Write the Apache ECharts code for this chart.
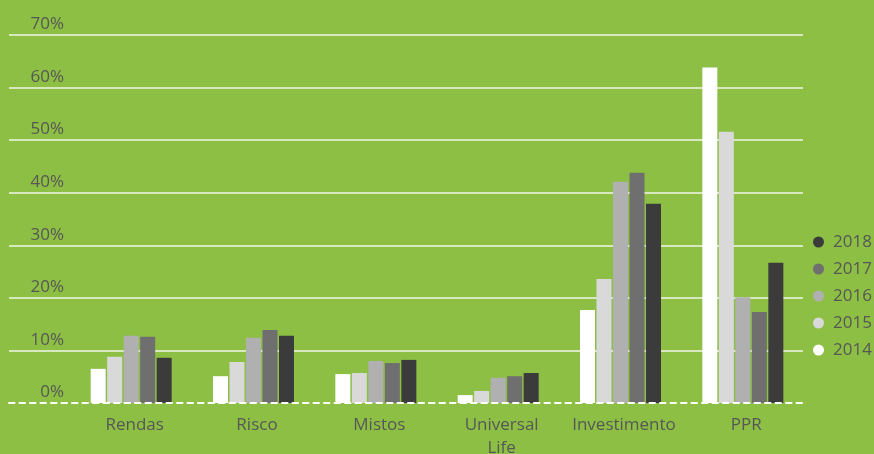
<!DOCTYPE html>
<html>
<head>
<meta charset="utf-8">
<style>
  html, body { margin: 0; padding: 0; background: #8cbf44; }
  #chart { width: 874px; height: 454px; }
</style>
<script src="https://cdn.jsdelivr.net/npm/echarts@6/dist/echarts.min.js"></script>
</head>
<body>
<div id="chart"></div>
<script>
// Product lines and yearly shares (%)
const categories = ['Rendas', 'Risco', 'Mistos', 'Universal Life', 'Investimento', 'PPR'];
const years = ['2014', '2015', '2016', '2017', '2018'];
const values2014 = [6.5, 5.1, 5.5, 1.5, 17.7, 63.8];
const values2015 = [8.8, 7.8, 5.7, 2.3, 23.6, 51.6];
const values2016 = [12.8, 12.4, 8.0, 4.8, 42.1, 20.1];
const values2017 = [12.6, 13.9, 7.6, 5.1, 43.8, 17.3];
const values2018 = [8.6, 12.8, 8.2, 5.7, 37.9, 26.7];
const yTicks = [0, 10, 20, 30, 40, 50, 60, 70];

const seriesValues = [values2014, values2015, values2016, values2017, values2018];
const barColors = ['#ffffff', '#d9d9d9', '#b0b0b0', '#6f6f6f', '#3b3b3b'];
const textColor = '#575757';
const fontFamily = '"Open Sans", Lato, sans-serif';
const fontSize = 17;

const chart = echarts.init(document.getElementById('chart'), null, { renderer: 'canvas' });

const yMin = yTicks[0];
const yMax = yTicks[yTicks.length - 1];
const yStep = yTicks[1] - yTicks[0];

chart.setOption({
  backgroundColor: '#8cbf44',
  animation: false,
  textStyle: { fontFamily: fontFamily },
  legend: {
    orient: 'vertical',
    left: 808,
    top: 228,
    icon: 'circle',
    itemWidth: 11,
    itemHeight: 11,
    itemGap: 9,
    data: years.slice().reverse(),
    textStyle: {
      color: textColor,
      fontSize: fontSize,
      lineHeight: 18,
      padding: [0, 0, 0, 4],
      fontFamily: fontFamily
    }
  },
  grid: [
    // plotting area for the bars
    { left: 70, right: 70, top: 35, bottom: 51, outerBoundsMode: 'none', containLabel: false },
    // wider backdrop carrying the value gridlines and the dashed baseline
    { left: 9, right: 71, top: 35, bottom: 51, outerBoundsMode: 'none', containLabel: false }
  ],
  xAxis: [
    {
      type: 'category',
      gridIndex: 0,
      data: categories,
      axisLine: { show: false },
      axisTick: { show: false },
      axisLabel: {
        color: textColor,
        fontSize: fontSize,
        lineHeight: 23,
        margin: 11,
        padding: [0, 0, 0, 7],
        interval: 0,
        formatter: function (name) { return name.replace(' ', '\n'); }
      },
      z: 3
    },
    {
      type: 'value',
      gridIndex: 1,
      min: 0,
      max: 1,
      axisLine: {
        show: true,
        onZero: false,
        lineStyle: { color: '#ffffff', width: 2, type: [5.5, 5] }
      },
      axisTick: { show: false },
      axisLabel: { show: false },
      splitLine: { show: false },
      z: 5
    }
  ],
  yAxis: [
    {
      type: 'value',
      gridIndex: 0,
      min: yMin,
      max: yMax,
      interval: yStep,
      show: false,
      splitLine: { show: false }
    },
    {
      type: 'value',
      gridIndex: 1,
      min: yMin,
      max: yMax,
      interval: yStep,
      axisLine: { show: false },
      axisTick: { show: false },
      axisLabel: {
        inside: true,
        align: 'right',
        verticalAlign: 'bottom',
        margin: 55,
        padding: [0, 0, 2, 0],
        color: textColor,
        fontSize: fontSize,
        formatter: function (v) { return v + '%'; }
      },
      splitLine: {
        show: true,
        showMinLine: false,
        lineStyle: { color: '#f2f7ea', width: 1.5 }
      },
      z: 1
    }
  ],
  series: years.map(function (year, i) {
    return {
      name: year,
      type: 'bar',
      xAxisIndex: 0,
      yAxisIndex: 0,
      data: seriesValues[i],
      barWidth: 15,
      barGap: '10%',
      itemStyle: { color: barColors[i] },
      z: 2
    };
  })
});
</script>
</body>
</html>
